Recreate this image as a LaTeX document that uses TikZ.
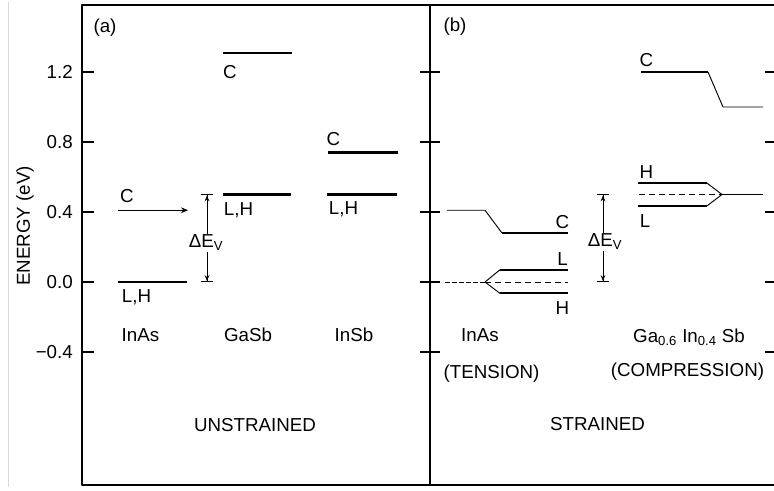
\documentclass[tikz,border=0pt]{standalone}
\usepackage{fontspec}
\setmainfont{Liberation Sans}
\usetikzlibrary{arrows.meta}
\begin{document}
\begin{tikzpicture}[x=0.03cm,y=5.25cm,font=\fontsize{16}{18}\selectfont,line join=round,>=Stealth,
	band/.style={line width=1.8pt},
	thinband/.style={line width=0.8pt},
	midband/.style={line width=0.8pt,dash pattern=on 5pt off 3.5pt},
	gap/.style={line width=0.8pt,{Bar[width=11pt]Stealth[length=5pt,width=4pt]}-{Stealth[length=5pt,width=4pt]Bar[width=11pt]}},
	lbl/.style={inner sep=0pt}]
	\useasboundingbox (0,-1.1886) rectangle (774,1.6114);
	\draw[black!15,line width=0.8pt] (8,1.6) -- (8,-1.17);
	\draw[line width=1.5pt] (774,1.583) -- (82,1.583) -- (82,-1.16) -- (774,-1.16);
	\draw[line width=1.2pt] (430,1.583) -- (430,-1.16);
	\foreach \e/\t [count=\i] in {1.2/1.2,0.8/0.8,0.4/0.4,0/0.0,-0.4/−0.4}{
		\draw[line width=1.2pt] (82,\e) -- (94,\e);
		\draw[line width=1.2pt] (420,\e) -- (440,\e);
		\draw[line width=1.2pt] (765,\e) -- (774,\e);
		\node[lbl,anchor=east] (tick\i) at (73,\e) {\t};
	}
	\node[lbl,rotate=90] (ylabel) at (25,0.32) {ENERGY (eV)};
	\node[lbl] (titlea) at (105,1.451) {(a)};
	\draw[line width=1.1pt,-{Stealth[length=6pt,width=5pt]}] (118,0.41) -- (188,0.41);
	\draw[band] (118,0) -- (187,0);
	\draw[band] (223,1.31) -- (292,1.31);
	\draw[band] (223,0.5) -- (291,0.5);
	\draw[band] (328,0.74) -- (398,0.74);
	\draw[band] (327,0.5) -- (397,0.5);
	\coordinate (gapa-bot) at (207,0);
	\coordinate (gapa-top) at (207,0.5);
	\draw[gap] (gapa-bot) -- (gapa-top);
	\node[fill=white,inner sep=1pt] (dEa) at (206,0.223) {ΔE\textsubscript{V}};
	\node[lbl] (inas-cl) at (127,0.491) {C};
	\node[lbl] (inas-vl) at (136.5,-0.086) {L,H};
	\node[lbl] (gasb-cl) at (230,1.2) {C};
	\node[lbl] (gasb-vl) at (238.5,0.411) {L,H};
	\node[lbl] (insb-cl) at (333.5,0.814) {C};
	\node[lbl] (insb-vl) at (343.5,0.417) {L,H};
	\node[lbl] (inas-a) at (140.5,-0.303) {InAs};
	\node[lbl] (gasb-a) at (248,-0.303) {GaSb};
	\node[lbl] (insb-a) at (354,-0.303) {InSb};
	\node[lbl] (unstr) at (255,-0.817) {UNSTRAINED};
	\node[lbl] (titleb) at (455,1.457) {(b)};
	\draw[thinband] (447,0.41) -- (485,0.41) -- (502,0.28);
	\draw[band] (502,0.28) -- (568,0.28);
	\draw[thinband,dash pattern=on 4pt off 2pt] (445,0) -- (485,0);
	\draw[thinband] (500,0.07) -- (485,0) -- (500,-0.065);
	\draw[band] (500,0.07) -- (568,0.07);
	\draw[band] (500,-0.065) -- (568,-0.065);
	\draw[midband] (485,0) -- (568,0);
	\coordinate (gapb-bot) at (603,0);
	\coordinate (gapb-top) at (603,0.5);
	\draw[gap] (gapb-bot) -- (gapb-top);
	\node[fill=white,inner sep=1pt] (dEb) at (605,0.229) {ΔE\textsubscript{V}};
	\node[lbl] (inasb-cl) at (562.5,0.343) {C};
	\node[lbl] (inasb-ll) at (562.5,0.131) {L};
	\node[lbl] (inasb-hl) at (562.5,-0.149) {H};
	\draw[band] (641,1.2) -- (708,1.2);
	\draw[thinband] (708,1.2) -- (723,1.0) -- (763,1.0);
	\draw[band] (638,0.565) -- (707,0.565);
	\draw[band] (638,0.435) -- (707,0.435);
	\draw[thinband] (707,0.565) -- (722,0.5) -- (707,0.435);
	\draw[midband] (639,0.5) -- (722,0.5);
	\draw[thinband] (722,0.5) -- (763,0.5);
	\node[lbl] (ga-cl) at (646.5,1.269) {C};
	\node[lbl] (ga-hl) at (646.5,0.631) {H};
	\node[lbl] (ga-ll) at (645,0.346) {L};
	\node[lbl] (inas-b) at (480,-0.303) {InAs};
	\node[lbl] (tension) at (491.5,-0.523) {(TENSION)};
	\node[lbl,anchor=base west] (gainsb) at (633,-0.343) {Ga\textsubscript{0.6} In\textsubscript{0.4} Sb};
	\node[lbl] (compr) at (687.5,-0.514) {(COMPRESSION)};
	\node[lbl] (strained) at (597.5,-0.809) {STRAINED};
\end{tikzpicture}
\end{document}
